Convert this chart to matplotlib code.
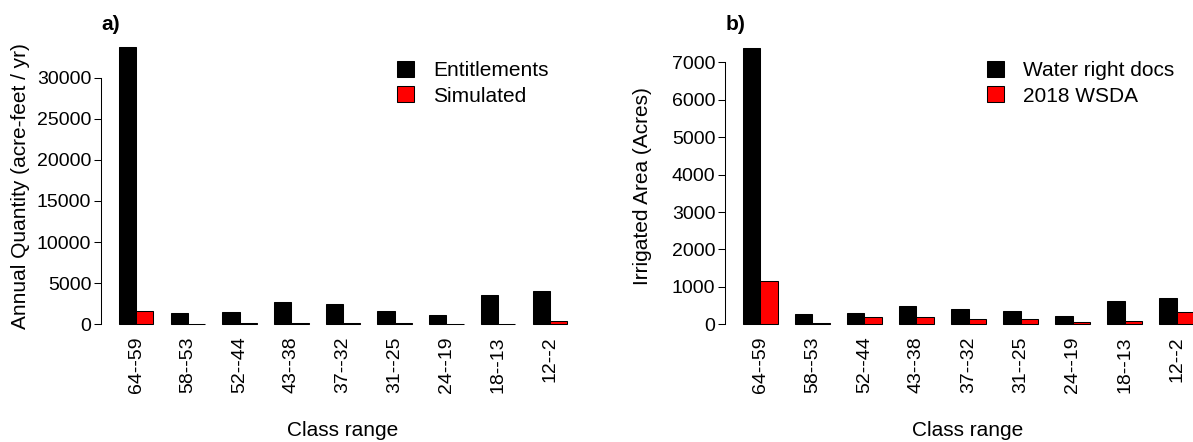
import numpy as np
import matplotlib.pyplot as plt
from matplotlib.patches import Patch

plt.rcParams['font.family'] = ['Liberation Sans', 'DejaVu Sans']

# rangos de clase (prioridad del derecho de agua)
clases = ["64--59", "58--53", "52--44", "43--38", "37--32",
          "31--25", "24--19", "18--13", "12--2"]

# panel a) cantidad anual (acre-feet / yr)
entitlements = [33700, 1330, 1490, 2740, 2420, 1650, 1170, 3590, 4030]
simulated = [1590, 40, 180, 190, 150, 110, 90, 90, 440]

# panel b) area irrigada (acres)
water_docs = [7380, 275, 300, 498, 409, 365, 213, 632, 703]
wsda_2018 = [1150, 25, 187, 187, 151, 133, 53, 89, 320]

W, H = 1193, 442
fig = plt.figure(figsize=(W / 100, H / 100), dpi=100)

TAM = 14


def barras_pareadas(ax, serie1, serie2, ytop, ystep):
    n = len(serie1)
    # mismo esquema que barplot(beside=TRUE) de R: 1 de espacio entre grupos
    x1 = 1 + 3 * np.arange(n) + 0.5
    x2 = x1 + 1
    ax.bar(x1, serie1, width=1, color="black", edgecolor="black", linewidth=0.75)
    ax.bar(x2, serie2, width=1, color="red", edgecolor="black", linewidth=0.75)
    ymax = max(max(serie1), max(serie2))
    ax.set_xlim(1 - 0.04 * 26, 27 + 0.04 * 26)
    ax.set_ylim(-0.04 * ymax, 1.04 * ymax)
    ax.set_xticks(x1 + 0.5)
    ax.set_xticklabels(clases, rotation=90, fontsize=TAM)
    ax.tick_params(axis="x", length=0, pad=1)
    ax.set_yticks(np.arange(0, ytop + 1, ystep))
    ax.tick_params(axis="y", length=5, width=0.75, pad=2, labelsize=TAM)
    for s in ["top", "right", "bottom"]:
        ax.spines[s].set_visible(False)
    ax.spines["left"].set_bounds(0, ytop)
    ax.spines["left"].set_linewidth(0.75)


def leyenda(ax, etiquetas, x_px):
    ax.legend(handles=[Patch(facecolor="black", edgecolor="black", linewidth=0.75),
                       Patch(facecolor="red", edgecolor="black", linewidth=0.75)],
              labels=etiquetas,
              loc="upper left", bbox_to_anchor=(x_px / W, 1 - 61 / H),
              bbox_transform=fig.transFigure, frameon=False, borderpad=0,
              borderaxespad=0, handlelength=0.8, handleheight=0.8,
              handletextpad=0.95, labelspacing=0.3, fontsize=15)


ax1 = fig.add_axes([101 / W, 0.2413, 484 / W, 0.6769])
barras_pareadas(ax1, entitlements, simulated, 30000, 5000)
leyenda(ax1, ["Entitlements", "Simulated"], 397)

ax2 = fig.add_axes([725 / W, 0.2413, 487 / W, 0.6749])
barras_pareadas(ax2, water_docs, wsda_2018, 7000, 1000)
leyenda(ax2, ["Water right docs", "2018 WSDA"], 987)

# etiquetas de ejes y titulos de panel
fig.text(21 / W, 1 - 186 / H, "Annual Quantity (acre-feet / yr)",
         rotation=90, ha="center", va="center", fontsize=15)
fig.text(642 / W, 1 - 186 / H, "Irrigated Area (Acres)",
         rotation=90, ha="center", va="center", fontsize=15)
fig.text(343 / W, 1 - 430 / H, "Class range", ha="center", va="center", fontsize=15)
fig.text(968 / W, 1 - 430 / H, "Class range", ha="center", va="center", fontsize=15)
fig.text(101 / W, 1 - 30 / H, "a)", fontweight="bold", fontsize=15, va="baseline")
fig.text(726 / W, 1 - 30 / H, "b)", fontweight="bold", fontsize=15, va="baseline")

fig.savefig("out.png", dpi=100)
